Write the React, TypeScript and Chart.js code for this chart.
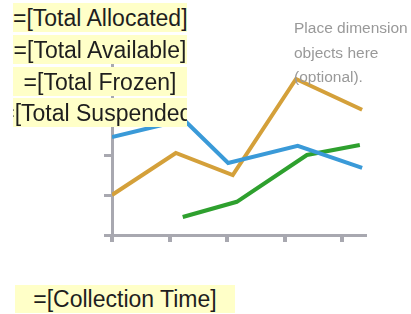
import React, { useEffect, useRef } from "react";
import { Chart, registerables } from "chart.js";

Chart.register(...registerables);

// Series values (x in category units, y in value units)
const allocatedX = [0, 1.25, 2.02, 3.23, 4.35];
const allocatedY = [2.45, 2.88, 1.8, 2.23, 1.68];
const availableX = [0, 1.11, 2.1, 3.2, 4.35];
const availableY = [1.0, 2.05, 1.5, 3.9, 3.13];
const frozenX = [1.23, 2.17, 3.39, 4.31];
const frozenY = [0.45, 0.83, 2.0, 2.25];

const xTickValues = [0, 1, 2, 3, 4];
const yTickValues = [0, 1, 2, 3, 4];

const measureLabels = [
  "=[Total Allocated]",
  "=[Total Available]",
  "=[Total Frozen]",
  "=[Total Suspended]",
];
const categoryLabel = "=[Collection Time]";
const dimensionHint = ["Place dimension", "objects here", "(optional)."];

const toPoints = (xs: number[], ys: number[]) => xs.map((x, i) => ({ x, y: ys[i] }));

const AXIS = "#a8a8b0";
const FONT = "'Liberation Sans', Arial, sans-serif";

export default function App() {
  const ref = useRef<HTMLCanvasElement>(null);

  useEffect(() => {
    if (!ref.current) return;
    const setTicks = (values: number[]) => (scale: any) => {
      scale.ticks = values.map((v) => ({ value: v }));
    };
    const chart = new Chart(ref.current, {
      type: "line",
      data: {
        datasets: [
          { label: measureLabels[0], data: toPoints(allocatedX, allocatedY), borderColor: "#3a9ad8" },
          { label: measureLabels[1], data: toPoints(availableX, availableY), borderColor: "#d4a03a" },
          { label: measureLabels[2], data: toPoints(frozenX, frozenY), borderColor: "#2ea02e" },
        ].map((d) => ({ ...d, borderWidth: 4, pointRadius: 0, tension: 0, fill: false })),
      },
      options: {
        responsive: false,
        animation: false,
        layout: { padding: { left: 104, right: 46, top: 61, bottom: 72 } },
        plugins: { legend: { display: false }, tooltip: { enabled: false } },
        scales: {
          x: {
            type: "linear",
            min: 0,
            max: 4.4,
            afterBuildTicks: setTicks(xTickValues),
            ticks: { display: false },
            grid: { drawOnChartArea: false, tickLength: 7, color: AXIS, lineWidth: 4 },
            border: { color: AXIS, width: 3 },
          },
          y: {
            type: "linear",
            min: 0,
            max: 4.35,
            afterBuildTicks: setTicks(yTickValues),
            ticks: { display: false },
            grid: { drawOnChartArea: false, tickLength: 8, color: AXIS, lineWidth: 3 },
            border: { color: AXIS, width: 3 },
          },
        },
      },
    });
    return () => chart.destroy();
  }, []);

  const box: React.CSSProperties = {
    position: "absolute",
    left: 13,
    width: 174,
    height: 29,
    boxSizing: "border-box",
    paddingTop: 1,
    background: "#ffffc8",
    overflow: "hidden",
    whiteSpace: "nowrap",
    fontFamily: FONT,
    fontSize: 23,
    lineHeight: "28px",
    color: "#1e1e1e",
  };
  const tops = [3, 35, 67, 98];

  return (
    <div style={{ position: "fixed", left: 0, top: 0, width: 411, height: 314, background: "#fff" }}>
      <canvas ref={ref} width={411} height={314} style={{ position: "absolute", left: 0, top: 0 }} />
      {measureLabels.map((t, i) => (
        <div
          key={t}
          style={{
            ...box,
            top: tops[i],
            ...(i === 3
              ? { display: "flex", justifyContent: "center" }
              : { textAlign: "center" }),
          }}
        >
          <span style={{ flexShrink: 0 }}>{t}</span>
        </div>
      ))}
      <div
        style={{
          position: "absolute",
          left: 294,
          top: 16,
          fontFamily: FONT,
          fontSize: 15.5,
          lineHeight: "24.5px",
          color: "#999",
          whiteSpace: "nowrap",
        }}
      >
        {dimensionHint.map((l) => (
          <div key={l}>{l}</div>
        ))}
      </div>
      <div
        style={{
          ...box,
          left: 15,
          width: 220,
          top: 285,
          height: 28,
          lineHeight: "27px",
          textAlign: "center",
        }}
      >
        {categoryLabel}
      </div>
    </div>
  );
}
